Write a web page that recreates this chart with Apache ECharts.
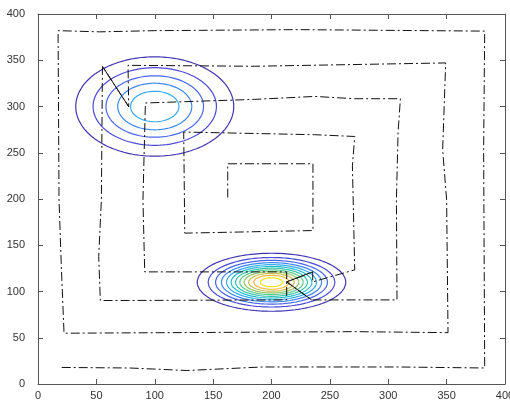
<!DOCTYPE html>
<html>
<head>
<meta charset="utf-8">
<script src="https://cdn.jsdelivr.net/npm/echarts@6/dist/echarts.min.js"></script>
<style>
  html, body { margin: 0; padding: 0; background: #ffffff; overflow: hidden; }
  #chart { width: 510px; height: 405px; }
</style>
</head>
<body>
<div id="chart"></div>
<script>
// Axis ranges and tick step
const xRange = [0, 400];
const yRange = [0, 400];
const tickStep = 50;

// Two Gaussian hills: centre, spread and height
const hillX = [100, 200];
const hillY = [300, 110];
const hillSx = [35.9, 28.2];
const hillSy = [28.5, 13.9];
const hillAmp = [5.91, 12.75];

// Contour levels (equally spaced)
const levels = [1, 2, 3, 4, 5, 6, 7, 8, 9, 10, 11, 12];

// Spiral path, outside in
const pathX = [20.3, 78.6, 127.5, 192.5, 309.8, 382.6, 381.7, 382.6, 222.4, 99.9, 52.8, 17.2,
  18.0, 20.0, 22.3, 271.3, 351.2, 350.0, 346.6, 349.2, 185.6, 77.1, 77.7, 55.2,
  54.3, 52.0, 53.4, 213.0, 213.0, 91.4, 89.9, 92.0, 185.6, 237.0, 271.3, 310.4,
  308.4, 307.0, 307.5, 234.4, 213.0, 235.3, 235.3, 271.3, 269.3, 271.3, 237.0, 124.8,
  125.7, 235.5, 235.5, 162.5, 162.5];
const pathY = [17.9, 17.3, 14.6, 18.4, 18.4, 17.3, 253.2, 381.5, 383.1, 382.0, 380.7, 382.0,
  199.1, 126.6, 54.9, 56.6, 55.5, 199.1, 253.2, 347.1, 343.5, 344.5, 299.8, 343.4,
  199.1, 137.8, 90.2, 90.9, 121.2, 121.2, 199.1, 303.8, 307.7, 310.9, 308.4, 308.4,
  271.6, 199.1, 90.9, 90.9, 110.4, 121.2, 110.4, 123.4, 235.9, 267.6, 269.5, 272.4,
  163.1, 165.9, 238.1, 238.1, 201.0];
// Path segments (start index) drawn with a solid stroke
const solidSegments = [22, 39, 40];

// One colour per contour level, low to high
const levelColors = ['#4436b0', '#4c4ad8', '#4866ee', '#3c88f0', '#36aaec', '#20bcd0',
  '#33c4ae', '#5cc78e', '#92c66c', '#c8bf50', '#f4bb3c', '#f6e41c'];

function surface(x, y) {
  let z = 0;
  for (let i = 0; i < hillX.length; i++) {
    const dx = (x - hillX[i]) / hillSx[i];
    const dy = (y - hillY[i]) / hillSy[i];
    z += hillAmp[i] * Math.exp(-0.5 * (dx * dx + dy * dy));
  }
  return z;
}

// Trace a closed contour round a hill by bisecting along rays from its top
function traceContour(h, level) {
  const pts = [];
  const n = 180;
  const rMax = 6 * Math.max(hillSx[h], hillSy[h]);
  for (let k = 0; k <= n; k++) {
    const a = (2 * Math.PI * k) / n;
    const ca = Math.cos(a), sa = Math.sin(a);
    let lo = 0, hi = rMax;
    for (let it = 0; it < 40; it++) {
      const mid = (lo + hi) / 2;
      if (surface(hillX[h] + mid * ca, hillY[h] + mid * sa) > level) lo = mid; else hi = mid;
    }
    const r = (lo + hi) / 2;
    pts.push([hillX[h] + r * ca, hillY[h] + r * sa]);
  }
  return pts;
}

const series = [];
for (let h = 0; h < hillX.length; h++) {
  const top = surface(hillX[h], hillY[h]);
  levels.forEach((lv, i) => {
    if (lv >= top) return;
    series.push({
      type: 'line',
      data: traceContour(h, lv),
      showSymbol: false,
      silent: true,
      smooth: false,
      lineStyle: { color: levelColors[i], width: 1.2 },
      z: 2
    });
  });
}

const pathData = pathX.map((x, i) => [x, pathY[i]]);
series.push({
  type: 'line',
  data: pathData,
  showSymbol: false,
  silent: true,
  lineStyle: { color: '#111111', width: 1, type: [9, 3, 2, 3] },
  z: 3
});
solidSegments.forEach(s => {
  series.push({
    type: 'line',
    data: [pathData[s], pathData[s + 1]],
    showSymbol: false,
    silent: true,
    lineStyle: { color: '#111111', width: 1 },
    z: 3
  });
});

const axisLineStyle = { color: '#555555', width: 1 };
const labelStyle = { color: '#333333', fontSize: 11, fontFamily: 'Liberation Sans, Arial, sans-serif' };

const chart = echarts.init(document.getElementById('chart'), null, { renderer: 'canvas' });
chart.setOption({
  animation: false,
  backgroundColor: '#ffffff',
  grid: { left: 38, right: 5, top: 14, bottom: 21, containLabel: false, outerBoundsMode: 'none' },
  xAxis: [
    {
      type: 'value', position: 'bottom', min: xRange[0], max: xRange[1], interval: tickStep,
      axisLine: { show: true, onZero: false, lineStyle: axisLineStyle },
      axisTick: { show: true, inside: true, length: 5, lineStyle: axisLineStyle },
      axisLabel: Object.assign({ margin: 6 }, labelStyle),
      splitLine: { show: false }
    },
    {
      type: 'value', position: 'top', min: xRange[0], max: xRange[1], interval: tickStep,
      axisLine: { show: true, onZero: false, lineStyle: axisLineStyle },
      axisTick: { show: true, inside: true, length: 5, lineStyle: axisLineStyle },
      axisLabel: { show: false },
      splitLine: { show: false }
    }
  ],
  yAxis: [
    {
      type: 'value', position: 'left', min: yRange[0], max: yRange[1], interval: tickStep,
      axisLine: { show: true, onZero: false, lineStyle: axisLineStyle },
      axisTick: { show: true, inside: true, length: 5, lineStyle: axisLineStyle },
      axisLabel: Object.assign({ margin: 13 }, labelStyle),
      splitLine: { show: false }
    },
    {
      type: 'value', position: 'right', min: yRange[0], max: yRange[1], interval: tickStep,
      axisLine: { show: true, onZero: false, lineStyle: axisLineStyle },
      axisTick: { show: true, inside: true, length: 5, lineStyle: axisLineStyle },
      axisLabel: { show: false },
      splitLine: { show: false }
    }
  ],
  series: series
});
</script>
</body>
</html>
